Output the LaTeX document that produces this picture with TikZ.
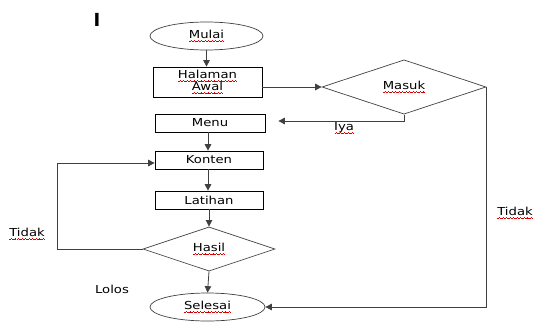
\documentclass[tikz,border=0pt]{standalone}
\usepackage{fontspec}
\setmainfont{DejaVu Sans}
\usepackage{graphicx}
\usetikzlibrary{shapes.geometric,arrows.meta}
\newsavebox\wavebox
\newcommand\sq[1]{\setbox0\hbox{#1}\leavevmode\rlap{\raisebox{-3.6pt}{\hbox to \wd0{\xleaders\copy\wavebox\hfill}}}\box0}
\newcommand\sx[1]{\scalebox{1.2}[1]{#1}}
\tikzset{
  box/.style={draw=black, line width=0.7pt, rectangle, inner sep=0pt},
  oval/.style={draw=black!75, line width=0.7pt, ellipse, inner sep=0pt},
  dia/.style={draw=black!75, line width=0.7pt, diamond, inner sep=0pt},
  lbl/.style={inner sep=0pt},
  arr/.style={draw=black!75, line width=0.8pt, -{Triangle[length=6.5pt,width=6.5pt]}},
}
\begin{document}
\sbox\wavebox{\textcolor{red!85!black}{\rule{0.7pt}{0.5pt}\rule[0.5pt]{0.7pt}{0.5pt}\rule[1pt]{0.7pt}{0.5pt}\rule[0.5pt]{0.7pt}{0.5pt}}}%
\begin{tikzpicture}[x=1pt,y=-1pt,font=\fontsize{11}{13}\selectfont]
\useasboundingbox (0,0) rectangle (534,324);
\node[lbl, font=\bfseries\fontsize{18}{18}\selectfont] (cur) at (97,20) {I};
\node[oval, minimum width=113pt, minimum height=28pt] (mulai) at (206.5,36) {\sx{\sq{Mulai}}};
\node[box, minimum width=109pt, minimum height=30pt, align=center, font=\fontsize{11}{12}\selectfont] (halaman) at (207.5,82) {\sx{\sq{Halaman}}\\\sx{\sq{Awal}}};
\node[dia, minimum width=164pt, minimum height=40pt] (masuk) at (404,87) {\sx{\sq{Masuk}}};
\node[box, minimum width=110pt, minimum height=18pt] (menu) at (210,123) {\sx{Menu}};
\node[box, minimum width=108pt, minimum height=18pt] (konten) at (209,160) {\sx{Konten}};
\node[box, minimum width=108pt, minimum height=18pt] (latihan) at (209,200) {\sx{Latihan}};
\node[dia, minimum width=132pt, minimum height=40pt] (hasil) at (209,249) {\sx{\sq{Hasil}}};
\node[oval, minimum width=115pt, minimum height=28pt] (selesai) at (207.5,307) {\sx{\sq{Selesai}}};
\node[lbl] (iya) at (344,128) {\sx{\sq{Iya}}};
\node[lbl] (tidakL) at (27,234) {\sx{\sq{Tidak}}};
\node[lbl] (lolos) at (112,289) {\sx{Lolos}};
\node[lbl] (tidakR) at (515,213) {\sx{\sq{Tidak}}};
\draw[arr] (mulai.south) -- (mulai.south |- halaman.north);
\draw[arr] (halaman.east |- masuk.west) -- (masuk.west);
\draw[arr, shorten >=13pt] (masuk.south) |- ([yshift=2pt]menu.east);
\draw[arr] ([xshift=-2pt]menu.south) -- ([xshift=-2pt]menu.south |- konten.north);
\draw[arr] ([xshift=-1pt]konten.south) -- ([xshift=-1pt]konten.south |- latihan.north);
\draw[arr] (latihan.south) -- (hasil.north);
\draw[arr] (hasil.west) -- ++(-85,0) |- ([yshift=-3pt]konten.west);
\draw[arr] (hasil.south) -- (selesai.north);
\draw[arr] (masuk.east) |- (selesai.east);
\end{tikzpicture}
\end{document}
